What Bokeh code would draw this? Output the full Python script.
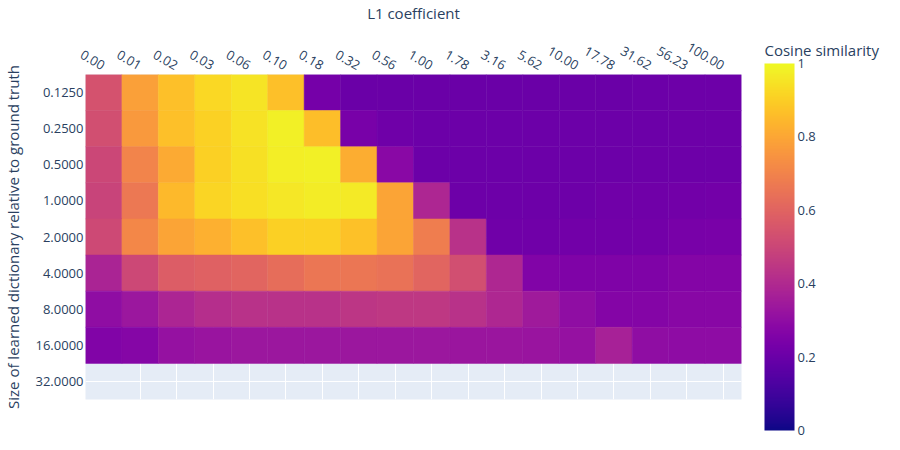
from math import pi
from bokeh.plotting import figure
from bokeh.models import (ColumnDataSource, FactorRange, LinearColorMapper, ColorBar,
                          FixedTicker, CustomJSTickFormatter, Label)
from bokeh.palettes import Plasma256
from bokeh.embed import file_html
from bokeh.resources import INLINE

l1_labels = ["0.00", "0.01", "0.02", "0.03", "0.06", "0.10", "0.18", "0.32", "0.56",
             "1.00", "1.78", "3.16", "5.62", "10.00", "17.78", "31.62", "56.23", "100.00"]
size_labels = ["0.1250", "0.2500", "0.5000", "1.0000", "2.0000", "4.0000",
               "8.0000", "16.0000", "32.0000"]

row_0125 = [0.54, 0.785, 0.866, 0.925, 0.95, 0.865, 0.228, 0.20, 0.20, 0.20, 0.20, 0.20,
            0.20, 0.20, 0.20, 0.205, 0.21, 0.21]
row_0250 = [0.53, 0.765, 0.866, 0.91, 0.946, 0.98, 0.86, 0.236, 0.212, 0.205, 0.205, 0.205,
            0.205, 0.205, 0.205, 0.205, 0.21, 0.21]
row_0500 = [0.50, 0.70, 0.81, 0.905, 0.944, 0.975, 0.98, 0.82, 0.285, 0.205, 0.205, 0.205,
            0.205, 0.205, 0.205, 0.21, 0.21, 0.21]
row_1000 = [0.49, 0.667, 0.85, 0.915, 0.94, 0.96, 0.97, 0.966, 0.793, 0.39, 0.208, 0.208,
            0.21, 0.21, 0.215, 0.215, 0.22, 0.224]
row_2000 = [0.51, 0.714, 0.793, 0.827, 0.866, 0.905, 0.905, 0.868, 0.793, 0.68, 0.427, 0.217,
            0.217, 0.22, 0.22, 0.225, 0.235, 0.24]
row_4000 = [0.38, 0.506, 0.577, 0.593, 0.603, 0.632, 0.66, 0.66, 0.645, 0.603, 0.53, 0.394,
            0.26, 0.256, 0.256, 0.256, 0.267, 0.267]
row_8000 = [0.299, 0.335, 0.383, 0.416, 0.427, 0.427, 0.427, 0.444, 0.452, 0.452, 0.427, 0.394,
            0.346, 0.30, 0.267, 0.267, 0.278, 0.278]
row_16000 = [0.259, 0.27, 0.315, 0.325, 0.335, 0.335, 0.335, 0.335, 0.335, 0.335, 0.33, 0.33,
             0.325, 0.315, 0.37, 0.30, 0.296, 0.296]
rows = [row_0125, row_0250, row_0500, row_1000, row_2000, row_4000, row_8000, row_16000]

colorbar_ticks = [0, 0.2, 0.4, 0.6, 0.8, 1]

xs, ys, vals = [], [], []
for size, row in zip(size_labels, rows):
    for l1, v in zip(l1_labels, row):
        xs.append(l1)
        ys.append(size)
        vals.append(v)
source = ColumnDataSource(dict(x=xs, y=ys, v=vals))

FONT = "Open Sans"
TXT = "#2a3f5f"
TICK_SIZE = "13px"
TITLE_SIZE = "15px"

p = figure(width=884, height=440, output_backend="svg", toolbar_location=None,
           x_range=FactorRange(factors=l1_labels, range_padding=0),
           y_range=FactorRange(factors=list(reversed(size_labels)), range_padding=0),
           x_axis_location="above",
           min_border_left=85, min_border_right=143, min_border_top=71, min_border_bottom=41)
p.outline_line_color = None
p.background_fill_color = "#E5ECF6"
p.border_fill_color = "white"

mapper = LinearColorMapper(palette=Plasma256, low=0, high=1)
p.rect(x="x", y="y", width=1, height=1, source=source,
       fill_color={"field": "v", "transform": mapper},
       line_color={"field": "v", "transform": mapper}, line_width=0.5)

for g in (p.xgrid, p.ygrid):
    g.grid_line_color = "white"
    g.grid_line_width = 1

for ax in (p.xaxis[0], p.yaxis[0]):
    ax.axis_line_color = None
    ax.major_tick_line_color = None
    ax.minor_tick_line_color = None
    ax.major_tick_out = 0
    ax.major_tick_in = 0
    ax.major_label_text_font = FONT
    ax.major_label_text_font_size = TICK_SIZE
    ax.major_label_text_color = TXT
    ax.axis_label_text_font = FONT
    ax.axis_label_text_font_size = TITLE_SIZE
    ax.axis_label_text_font_style = "normal"
    ax.axis_label_text_color = TXT

p.xaxis.axis_label = "L1 coefficient"
p.xaxis.major_label_orientation = -pi / 6
p.xaxis.major_label_standoff = 8
p.xaxis.axis_label_standoff = 12
p.yaxis.axis_label = "Size of learned dictionary relative to ground truth"
p.yaxis.major_label_standoff = 2
p.yaxis.axis_label_standoff = 9

cbar = ColorBar(color_mapper=mapper,
                ticker=FixedTicker(ticks=colorbar_ticks),
                formatter=CustomJSTickFormatter(code="return String(Math.round(tick*10)/10)"),
                width=30, height=367, padding=0, location=(679, -31),
                major_label_text_font=FONT, major_label_text_font_size=TICK_SIZE,
                major_label_text_color=TXT, label_standoff=3,
                major_tick_line_color=None, minor_tick_line_color=None,
                bar_line_color=None, border_line_color=None, background_fill_alpha=0)
p.add_layout(cbar, "center")

cbar_title = Label(x=23, y=349.5, x_units="screen", y_units="screen",
                   text="Cosine similarity", text_font=FONT,
                   text_font_size=TITLE_SIZE, text_color=TXT, text_align="left",
                   text_baseline="middle")
p.add_layout(cbar_title, "right")

open("out.html", "w").write(file_html(p, INLINE))
